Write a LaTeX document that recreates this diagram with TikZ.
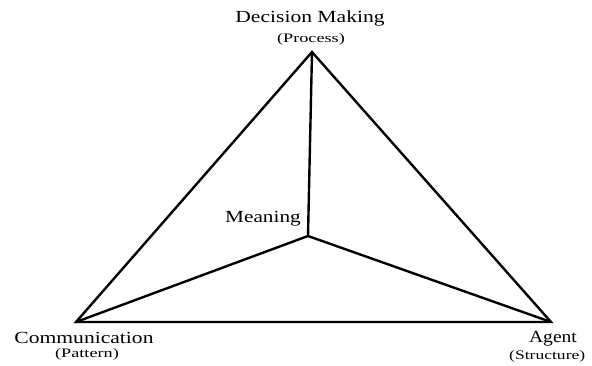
\documentclass[tikz,border=0pt]{standalone}
\usepackage{fontspec}
\setmainfont{Liberation Serif}
\begin{document}
\begin{tikzpicture}[x=1pt,y=-1pt,
  edge/.style={line width=2.4pt,line join=miter,black},
  biglabel/.style={inner sep=0pt,anchor=base,font=\fontsize{17}{20}\selectfont},
  smalllabel/.style={inner sep=0pt,anchor=base,font=\fontsize{13}{15}\selectfont}]
\useasboundingbox (0,0) rectangle (592,365);
\coordinate (T) at (312,52);
\coordinate (L) at (76,322);
\coordinate (R) at (551,322);
\coordinate (C) at (308,236);
\draw[edge] (T) -- (L) -- (R) -- cycle;
\draw[edge] (T) -- (C);
\draw[edge] (L) -- (C) -- (R);
\node[biglabel] (dm) at (310,22) {\scalebox{1.27}[1]{Decision Making}};
\node[smalllabel] (pr) at (311,42) {\scalebox{1.4}[1]{(Process)}};
\node[biglabel] (me) at (263,222) {\scalebox{1.25}[1]{Meaning}};
\node[biglabel] (cm) at (84,343) {\scalebox{1.27}[1]{Communication}};
\node[smalllabel] (pa) at (87,357) {\scalebox{1.4}[1]{(Pattern)}};
\node[biglabel] (ag) at (553,342) {\scalebox{1.15}[1]{Agent}};
\node[smalllabel,anchor=base west] (st) at (509,359) {\scalebox{1.35}[1]{(Structure)}};
\end{tikzpicture}
\end{document}
